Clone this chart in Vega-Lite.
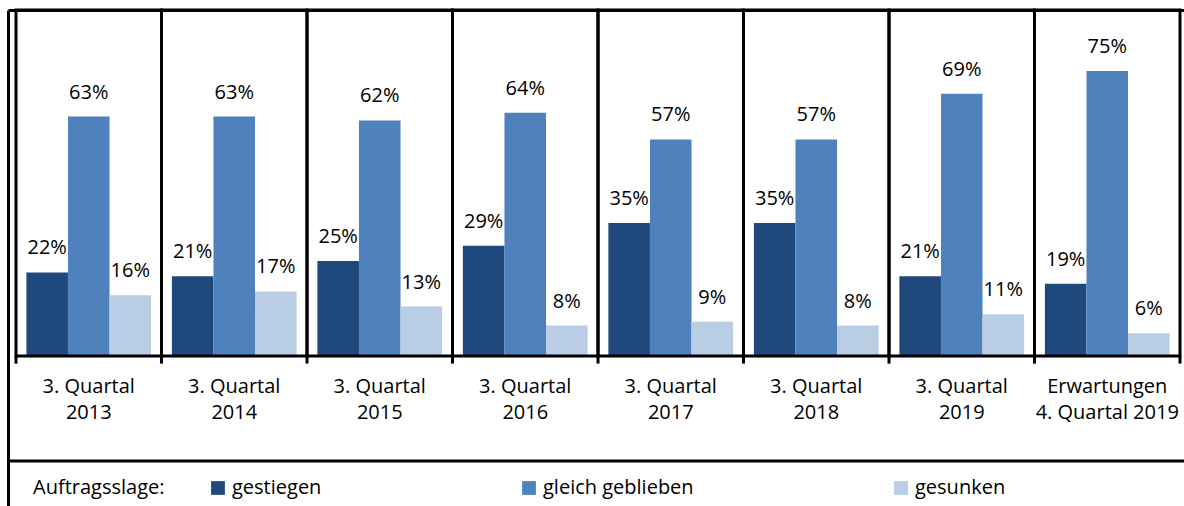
{
  "$schema": "https://vega.github.io/schema/vega-lite/v6.json",
  "width": 1176,
  "height": 496,
  "autosize": {"type": "none"},
  "padding": {"left": 8, "top": 10, "right": 0, "bottom": 0},
  "config": {
    "view": {"stroke": null},
    "font": "Open Sans",
    "axis": {"domain": true, "domainColor": "black", "domainWidth": 3, "ticks": false, "labels": false, "grid": false, "title": null}
  },
  "datasets": {
    "bars": [
      {"group": "q2013", "series": "gestiegen", "value": 22, "label": "22%"},
      {"group": "q2013", "series": "gleich geblieben", "value": 63, "label": "63%"},
      {"group": "q2013", "series": "gesunken", "value": 16, "label": "16%"},
      {"group": "q2014", "series": "gestiegen", "value": 21, "label": "21%"},
      {"group": "q2014", "series": "gleich geblieben", "value": 63, "label": "63%"},
      {"group": "q2014", "series": "gesunken", "value": 17, "label": "17%"},
      {"group": "q2015", "series": "gestiegen", "value": 25, "label": "25%"},
      {"group": "q2015", "series": "gleich geblieben", "value": 62, "label": "62%"},
      {"group": "q2015", "series": "gesunken", "value": 13, "label": "13%"},
      {"group": "q2016", "series": "gestiegen", "value": 29, "label": "29%"},
      {"group": "q2016", "series": "gleich geblieben", "value": 64, "label": "64%"},
      {"group": "q2016", "series": "gesunken", "value": 8, "label": "8%"},
      {"group": "q2017", "series": "gestiegen", "value": 35, "label": "35%"},
      {"group": "q2017", "series": "gleich geblieben", "value": 57, "label": "57%"},
      {"group": "q2017", "series": "gesunken", "value": 9, "label": "9%"},
      {"group": "q2018", "series": "gestiegen", "value": 35, "label": "35%"},
      {"group": "q2018", "series": "gleich geblieben", "value": 57, "label": "57%"},
      {"group": "q2018", "series": "gesunken", "value": 8, "label": "8%"},
      {"group": "q2019", "series": "gestiegen", "value": 21, "label": "21%"},
      {"group": "q2019", "series": "gleich geblieben", "value": 69, "label": "69%"},
      {"group": "q2019", "series": "gesunken", "value": 11, "label": "11%"},
      {"group": "e2019", "series": "gestiegen", "value": 19, "label": "19%"},
      {"group": "e2019", "series": "gleich geblieben", "value": 75, "label": "75%"},
      {"group": "e2019", "series": "gesunken", "value": 6, "label": "6%"}
    ],
    "groups": [
      {"group": "q2013", "label": "3. Quartal\n2013", "last": false},
      {"group": "q2014", "label": "3. Quartal\n2014", "last": false},
      {"group": "q2015", "label": "3. Quartal\n2015", "last": false},
      {"group": "q2016", "label": "3. Quartal\n2016", "last": false},
      {"group": "q2017", "label": "3. Quartal\n2017", "last": false},
      {"group": "q2018", "label": "3. Quartal\n2018", "last": false},
      {"group": "q2019", "label": "3. Quartal\n2019", "last": false},
      {"group": "e2019", "label": "Erwartungen\n4. Quartal 2019", "last": true}
    ]
  },
  "layer": [
    {
      "data": {"name": "bars"},
      "mark": {"type": "bar"},
      "encoding": {
        "x": {"field": "group", "type": "nominal", "title": null,
          "scale": {"domain": ["q2013", "q2014", "q2015", "q2016", "q2017", "q2018", "q2019", "e2019"], "paddingInner": 0, "paddingOuter": 0.04124, "align": 0.6667},
          "axis": {"orient": "top"}},
        "xOffset": {"field": "series", "type": "nominal",
          "scale": {"domain": ["gestiegen", "gleich geblieben", "gesunken"], "paddingInner": 0, "paddingOuter": 0.25}},
        "y": {"field": "value", "type": "quantitative", "title": null,
          "scale": {"domain": [-39.47, 91.05], "nice": false, "zero": false}},
        "color": {"field": "series", "type": "nominal",
          "scale": {"domain": ["gestiegen", "gleich geblieben", "gesunken"], "range": ["#1F497D", "#4F81BD", "#B9CDE5"]},
          "legend": {"orient": "none", "legendX": 25, "legendY": 468, "direction": "horizontal", "columns": 3,
            "title": "Auftragsslage:", "titleOrient": "left", "titleFontSize": 20, "titleFontWeight": "normal", "titleColor": "black", "titleFont": "Open Sans", "titlePadding": 43,
            "columnPadding": 197, "symbolType": "square", "symbolSize": 190, "symbolStrokeWidth": 0,
            "labelFontSize": 20, "labelColor": "black", "labelFont": "Open Sans", "labelOffset": 4, "padding": 0, "labelLimit": 300}}
      }
    },
    {
      "data": {"name": "bars"},
      "mark": {"type": "text", "dy": -18, "baseline": "alphabetic", "fontSize": 20, "color": "black"},
      "encoding": {
        "x": {"field": "group", "type": "nominal", "title": null, "axis": {"orient": "top"}},
        "xOffset": {"field": "series", "type": "nominal"},
        "y": {"field": "value", "type": "quantitative"},
        "text": {"field": "label", "type": "nominal"}
      }
    },
    {
      "data": {"name": "groups"},
      "mark": {"type": "bar", "fillOpacity": 0, "stroke": "black", "strokeWidth": 3},
      "encoding": {
        "x": {"field": "group", "type": "nominal", "title": null, "axis": {"orient": "top"}},
        "y": {"datum": 91.05, "type": "quantitative"},
        "y2": {"datum": 0}
      }
    },
    {
      "data": {"name": "groups"},
      "mark": {"type": "rule", "stroke": "black", "strokeWidth": 3},
      "encoding": {
        "x": {"field": "group", "type": "nominal", "bandPosition": 0, "title": null, "axis": {"orient": "top"}},
        "y": {"datum": 0, "type": "quantitative"},
        "y2": {"datum": -2}
      }
    },
    {
      "data": {"name": "groups"},
      "transform": [{"filter": "datum.last"}],
      "mark": {"type": "rule", "stroke": "black", "strokeWidth": 3},
      "encoding": {
        "x": {"field": "group", "type": "nominal", "bandPosition": 1, "title": null, "axis": {"orient": "top"}},
        "y": {"datum": 0, "type": "quantitative"},
        "y2": {"datum": -2}
      }
    },
    {
      "data": {"name": "groups"},
      "transform": [{"filter": "datum.last"}],
      "mark": {"type": "rule", "stroke": "black", "strokeWidth": 3},
      "encoding": {
        "y": {"datum": -27.63, "type": "quantitative"}
      }
    },
    {
      "data": {"name": "groups"},
      "mark": {"type": "text", "lineBreak": "\n", "baseline": "alphabetic", "fontSize": 20, "lineHeight": 26, "color": "black"},
      "encoding": {
        "x": {"field": "group", "type": "nominal", "title": null, "axis": {"orient": "top"}},
        "y": {"datum": -9.74, "type": "quantitative"},
        "text": {"field": "label", "type": "nominal"}
      }
    }
  ]
}
